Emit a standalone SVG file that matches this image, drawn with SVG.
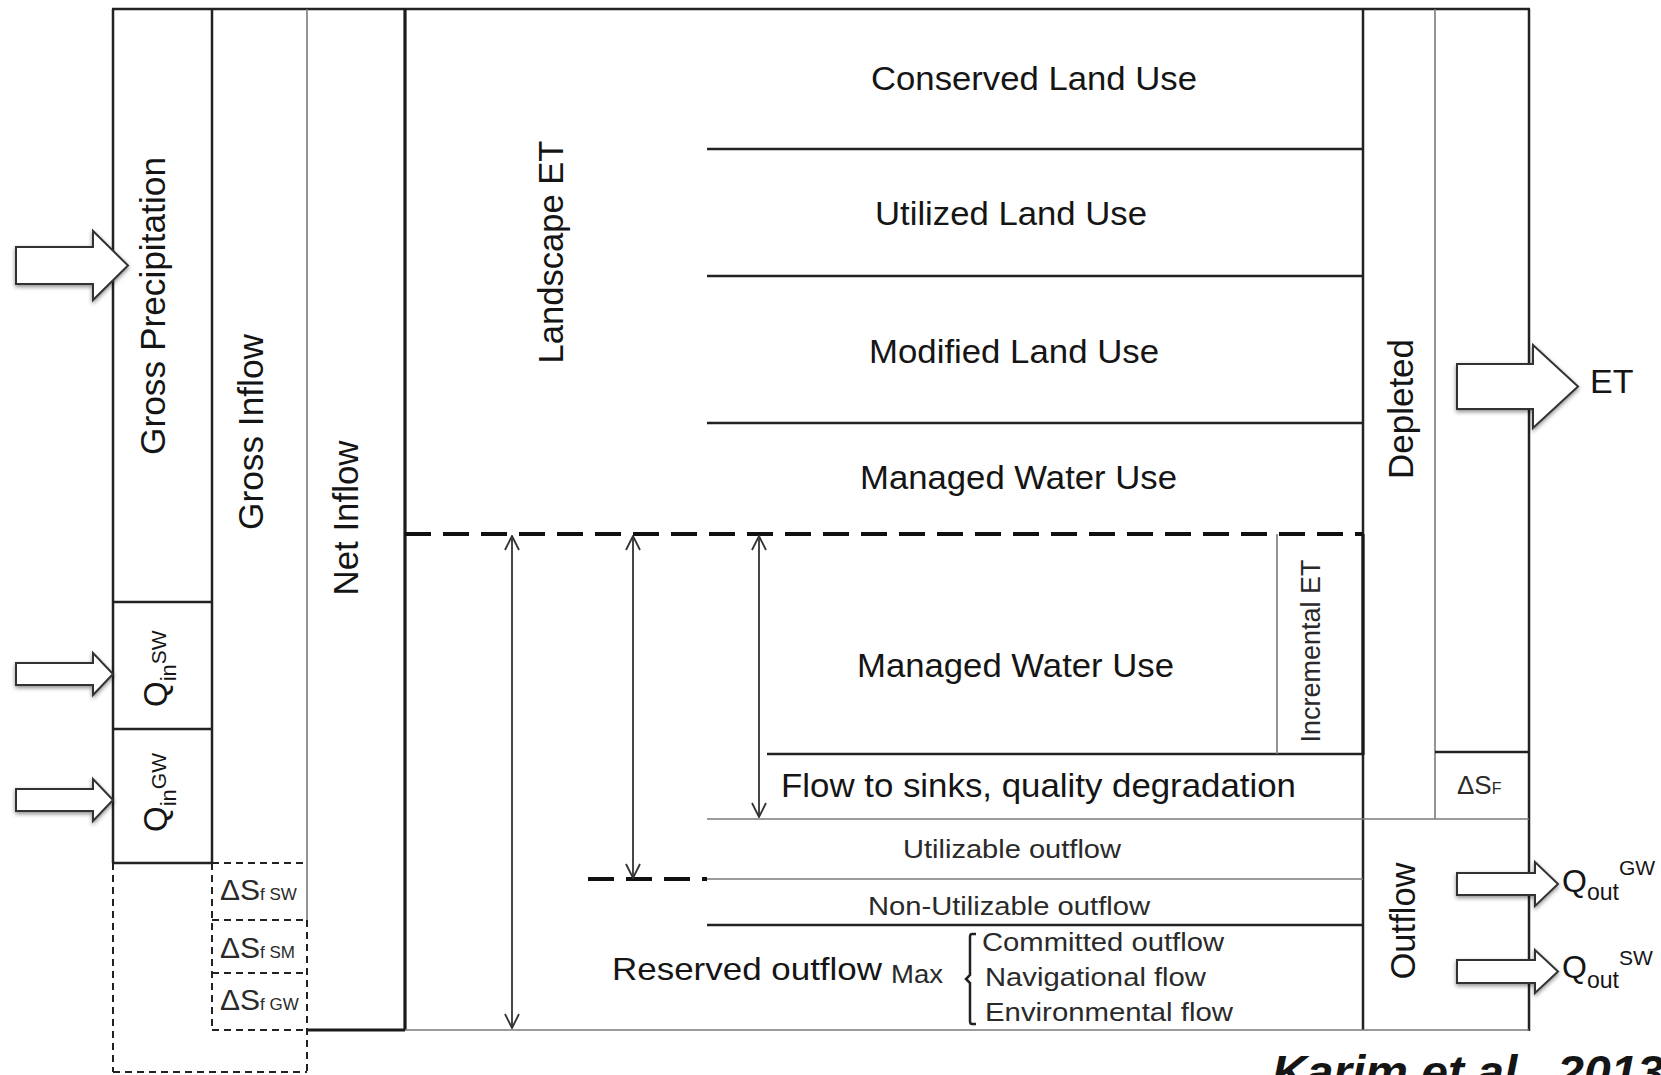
<svg xmlns="http://www.w3.org/2000/svg" width="1661" height="1075" viewBox="0 0 1661 1075">
<defs>
<style>
text{font-family:"Liberation Sans",Arial,sans-serif;fill:#151515}
.dk{stroke:#222;stroke-width:2.5;fill:none}
.dk3{stroke:#1a1a1a;stroke-width:3.2;fill:none}
.gy{stroke:#7a7a7a;stroke-width:1.6;fill:none}
.ds{stroke:#222;stroke-width:2;fill:none;stroke-dasharray:7 5}
.dsb{stroke:#111;stroke-width:4;fill:none;stroke-dasharray:26 12}
.dbl{stroke:#333;stroke-width:1.8;fill:none;marker-start:url(#v);marker-end:url(#v)}
.blk{fill:#fff;stroke:#333;stroke-width:2;filter:url(#sh)}
.lt{fill:#2a2a2a}
</style>
<marker id="v" viewBox="0 0 16 16" refX="15" refY="8" markerWidth="16" markerHeight="16" markerUnits="userSpaceOnUse" orient="auto-start-reverse">
<path d="M1,1 L15,8 L1,15" fill="none" stroke="#333" stroke-width="1.8"/>
</marker>
<filter id="sh" x="-20%" y="-30%" width="140%" height="170%">
<feDropShadow dx="0" dy="2" stdDeviation="2" flood-color="#000" flood-opacity="0.45"/>
</filter>
</defs>
<rect width="1661" height="1075" fill="#fff"/>

<g id="frame">
<line class="dk" x1="112" y1="9" x2="1530" y2="9"/>
<line class="dk" x1="113" y1="9" x2="113" y2="863"/>
<line class="dk" x1="212" y1="9" x2="212" y2="863"/>
<line class="gy" x1="307" y1="9" x2="307" y2="920"/>
<line class="dk3" x1="405" y1="9" x2="405" y2="1030"/>
<line class="dk" x1="1363" y1="9" x2="1363" y2="1030"/>
<line class="gy" x1="1435" y1="9" x2="1435" y2="819"/>
<line class="dk" x1="1529" y1="9" x2="1529" y2="1031"/>
<line class="dk3" x1="306" y1="1030" x2="405" y2="1030"/>
<line class="gy" x1="405" y1="1030" x2="1529" y2="1030"/>
<line class="ds" x1="113" y1="863" x2="113" y2="1072"/>
<line class="ds" x1="212" y1="863" x2="212" y2="1030"/>
<line class="ds" x1="307" y1="920" x2="307" y2="1072"/>
<line class="ds" x1="113" y1="1072" x2="307" y2="1072"/>
</g>

<g id="gross-precipitation">
<text transform="translate(165,306) rotate(-90)" text-anchor="middle" font-size="35" textLength="298" lengthAdjust="spacingAndGlyphs">Gross Precipitation</text>
</g>
<g id="qin-sw">
<line class="dk" x1="113" y1="602" x2="212" y2="602"/>
<text transform="translate(167,707) rotate(-90)" font-size="33">Q<tspan font-size="22" dy="9">in</tspan><tspan font-size="21" dy="-10">SW</tspan></text>
</g>
<g id="qin-gw">
<line class="dk" x1="113" y1="729" x2="212" y2="729"/>
<line class="dk" x1="113" y1="863" x2="212" y2="863"/>
<text transform="translate(167,832) rotate(-90)" font-size="33">Q<tspan font-size="22" dy="9">in</tspan><tspan font-size="21" dy="-10">GW</tspan></text>
</g>
<g id="gross-inflow">
<text transform="translate(263,432) rotate(-90)" text-anchor="middle" font-size="35" textLength="196" lengthAdjust="spacingAndGlyphs">Gross Inflow</text>
</g>
<g id="dsf-sw">
<line class="ds" x1="212" y1="863" x2="307" y2="863"/>
<text x="220" y="900" class="lt"><tspan font-size="30">ΔS</tspan><tspan font-size="17">f SW</tspan></text>
</g>
<g id="dsf-sm">
<line class="ds" x1="212" y1="920" x2="307" y2="920"/>
<text x="220" y="958" class="lt"><tspan font-size="30">ΔS</tspan><tspan font-size="17">f SM</tspan></text>
</g>
<g id="dsf-gw">
<line class="ds" x1="212" y1="973" x2="307" y2="973"/>
<line class="ds" x1="212" y1="1030" x2="307" y2="1030"/>
<text x="220" y="1010" class="lt"><tspan font-size="30">ΔS</tspan><tspan font-size="17">f GW</tspan></text>
</g>
<g id="net-inflow">
<text transform="translate(358,518) rotate(-90)" text-anchor="middle" font-size="35" textLength="155" lengthAdjust="spacingAndGlyphs">Net Inflow</text>
</g>
<g id="landscape-et">
<text transform="translate(563,252) rotate(-90)" text-anchor="middle" font-size="35" textLength="223" lengthAdjust="spacingAndGlyphs">Landscape ET</text>
</g>
<g id="conserved-land-use">
<text x="871" y="90" font-size="34" textLength="326" lengthAdjust="spacingAndGlyphs">Conserved Land Use</text>
<line class="dk" x1="707" y1="149" x2="1363" y2="149"/>
</g>
<g id="utilized-land-use">
<text x="875" y="225" font-size="34" textLength="272" lengthAdjust="spacingAndGlyphs">Utilized Land Use</text>
<line class="dk" x1="707" y1="276" x2="1363" y2="276"/>
</g>
<g id="modified-land-use">
<text x="869" y="363" font-size="34" textLength="290" lengthAdjust="spacingAndGlyphs">Modified Land Use</text>
<line class="dk" x1="707" y1="423" x2="1363" y2="423"/>
</g>
<g id="managed-water-use-top">
<text x="860" y="489" font-size="34" textLength="317" lengthAdjust="spacingAndGlyphs">Managed Water Use</text>
<line class="dsb" x1="405" y1="534" x2="1363" y2="534"/>
</g>
<g id="managed-water-use-bottom">
<text x="857" y="677" font-size="34" textLength="317" lengthAdjust="spacingAndGlyphs">Managed Water Use</text>
<line class="dk" x1="767" y1="754" x2="1363" y2="754"/>
<line class="dk3" x1="1363" y1="534" x2="1363" y2="755"/>
</g>
<g id="incremental-et">
<line class="gy" x1="1277" y1="534" x2="1277" y2="754"/>
<text transform="translate(1320,651) rotate(-90)" text-anchor="middle" font-size="27" class="lt" textLength="183" lengthAdjust="spacingAndGlyphs">Incremental ET</text>
</g>
<g id="flow-to-sinks">
<text x="781" y="797" font-size="34" textLength="515" lengthAdjust="spacingAndGlyphs">Flow to sinks, quality degradation</text>
<line class="gy" x1="707" y1="819" x2="1529" y2="819"/>
</g>
<g id="utilizable-outflow">
<text x="903" y="858" font-size="26" class="lt" textLength="218" lengthAdjust="spacingAndGlyphs">Utilizable  outflow</text>
<line class="dsb" x1="588" y1="879" x2="707" y2="879"/>
<line class="gy" x1="707" y1="879" x2="1363" y2="879"/>
</g>
<g id="non-utilizable-outflow">
<text x="868" y="915" font-size="26" class="lt" textLength="282" lengthAdjust="spacingAndGlyphs">Non-Utilizable  outflow</text>
<line class="dk" x1="707" y1="925" x2="1363" y2="925"/>
</g>
<g id="reserved-outflow">
<text x="612" y="980" font-size="32" textLength="270" lengthAdjust="spacingAndGlyphs">Reserved outflow</text>
<text x="891" y="983" font-size="25" class="lt" textLength="52" lengthAdjust="spacingAndGlyphs">Max</text>
<path class="dk" d="M976,934 H972 Q970,934 970,937 V975 L966,979 L970,983 V1021 Q970,1024 972,1024 H976"/>
<text x="982" y="951" font-size="26" class="lt" textLength="242" lengthAdjust="spacingAndGlyphs">Committed outflow</text>
<text x="985" y="986" font-size="26" class="lt" textLength="221" lengthAdjust="spacingAndGlyphs">Navigational flow</text>
<text x="985" y="1021" font-size="26" class="lt" textLength="248" lengthAdjust="spacingAndGlyphs">Environmental  flow</text>
</g>
<g id="depleted">
<text transform="translate(1413,409) rotate(-90)" text-anchor="middle" font-size="35" textLength="140" lengthAdjust="spacingAndGlyphs">Depleted</text>
</g>
<g id="delta-sf">
<line class="dk" x1="1435" y1="752" x2="1529" y2="752"/>
<text x="1457" y="794" class="lt"><tspan font-size="26">ΔS</tspan><tspan font-size="16">F</tspan></text>
</g>
<g id="outflow">
<text transform="translate(1415,921) rotate(-90)" text-anchor="middle" font-size="35" textLength="117" lengthAdjust="spacingAndGlyphs">Outflow</text>
</g>
<g id="et-label">
<text x="1590" y="393" font-size="34">ET</text>
</g>
<g id="qout-gw-label">
<text x="1562" y="892" font-size="32">Q<tspan font-size="23" dy="8">out</tspan><tspan font-size="21" dy="-25">GW</tspan></text>
</g>
<g id="qout-sw-label">
<text x="1562" y="978" font-size="32">Q<tspan font-size="23" dy="10">out</tspan><tspan font-size="21" dy="-23">SW</tspan></text>
</g>
<g id="citation">
<text x="1272" y="1088" font-size="46" font-weight="bold" font-style="italic" textLength="392" lengthAdjust="spacingAndGlyphs">Karim et al., 2013</text>
</g>

<g id="connectors">
<line class="dbl" x1="512" y1="536" x2="512" y2="1028"/>
<line class="dbl" x1="633" y1="536" x2="633" y2="878"/>
<line class="dbl" x1="759" y1="536" x2="759" y2="817"/>
<path class="blk" d="M16,247 H93 V231 L128,265.5 L93,300 V284 H16 Z"/>
<path class="blk" d="M16,663 H93 V653 L113,674 L93,695 V685 H16 Z"/>
<path class="blk" d="M16,789 H93 V779 L113,800 L93,821 V811 H16 Z"/>
<path class="blk" d="M1457,364 H1533 V345 L1578,386.5 L1533,428 V409 H1457 Z"/>
<path class="blk" d="M1457,873 H1535 V862 L1558,884 L1535,906 V895 H1457 Z"/>
<path class="blk" d="M1457,960 H1535 V950 L1558,971.5 L1535,993 V983 H1457 Z"/>
</g>
</svg>
